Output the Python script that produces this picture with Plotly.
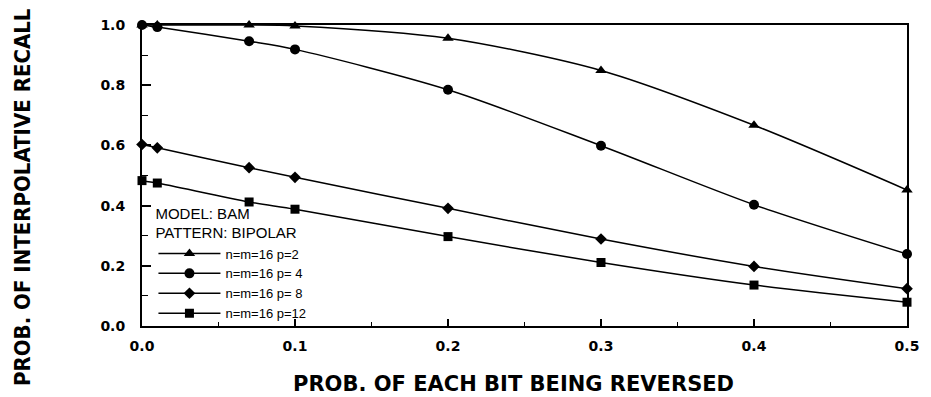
import plotly.graph_objects as go

# Data
x_vals = [0.0, 0.01, 0.07, 0.1, 0.2, 0.3, 0.4, 0.5]
p2 = [1.0, 1.0, 1.0, 0.997, 0.956, 0.849, 0.667, 0.452]
p4 = [1.0, 0.993, 0.946, 0.919, 0.785, 0.599, 0.403, 0.239]
p8 = [0.603, 0.592, 0.526, 0.494, 0.391, 0.289, 0.198, 0.124]
p12 = [0.483, 0.475, 0.412, 0.388, 0.297, 0.211, 0.136, 0.079]

series_names = ["n=m=16 p=2", "n=m=16 p= 4", "n=m=16 p= 8", "n=m=16 p=12"]
series_vals = [p2, p4, p8, p12]
symbols = ["triangle-up", "circle", "diamond", "square"]
sizes = [10, 10, 9, 9]

x_ticks = [0.0, 0.1, 0.2, 0.3, 0.4, 0.5]
x_ticklabels = ["0.0", "0.1", "0.2", "0.3", "0.4", "0.5"]
y_ticks = [0.0, 0.2, 0.4, 0.6, 0.8, 1.0]
y_ticklabels = ["0.0", "0.2", "0.4", "0.6", "0.8", "1.0"]

fig = go.Figure()
for name, vals, sym, sz in zip(series_names, series_vals, symbols, sizes):
    fig.add_trace(go.Scatter(
        x=x_vals, y=vals, name=name, mode="lines+markers",
        line=dict(color="black", width=1.5, shape="spline", smoothing=0.8),
        marker=dict(symbol=sym, size=sz, color="black"),
        cliponaxis=False,
    ))

W, H = 931, 397
L, R, T, B = 141.5, 21, 24.5, 70.5
pw = W - L - R
ph = H - T - B

def px_x(px):
    return (px - L) / pw

def px_y(py):
    return (H - B - py) / ph

tick_font = dict(family="DejaVu Sans", size=14, color="black", weight="bold")

fig.update_layout(
    width=W, height=H,
    margin=dict(l=L, r=R, t=T, b=B, pad=0),
    paper_bgcolor="white", plot_bgcolor="white",
    showlegend=True,
    legend=dict(
        x=px_x(153), y=px_y(329), xanchor="left", yanchor="bottom",
        bgcolor="rgba(0,0,0,0)",
        font=dict(family="Liberation Sans", size=13, color="black"),
        title=dict(text="MODEL: BAM<br>PATTERN: BIPOLAR", side="top",
                   font=dict(family="Liberation Sans", size=15, color="black")),
        itemwidth=62, tracegroupgap=0,
    ),
    xaxis=dict(
        range=[0, 0.5], tickvals=x_ticks, ticktext=x_ticklabels,
        showgrid=False, zeroline=False,
        showline=True, linecolor="black", linewidth=2, mirror=True,
        ticks="inside", ticklen=7, tickwidth=1.5, tickcolor="black",
        minor=dict(dtick=0.05, ticks="inside", ticklen=4, tickwidth=1, tickcolor="black"),
        tickfont=tick_font, ticklabelstandoff=6,
    ),
    yaxis=dict(
        range=[0, 1.0], tickvals=y_ticks, ticktext=y_ticklabels,
        showgrid=False, zeroline=False,
        showline=True, linecolor="black", linewidth=2, mirror=True,
        ticks="inside", ticklen=9, tickwidth=1.5, tickcolor="black",
        minor=dict(dtick=0.1, ticks="inside", ticklen=6, tickwidth=1, tickcolor="black"),
        tickfont=tick_font, ticklabelstandoff=12,
    ),
    annotations=[
        dict(text="PROB. OF INTERPOLATIVE RECALL", xref="paper", yref="paper",
             x=px_x(22), y=px_y(197), xanchor="center", yanchor="middle",
             textangle=-90, showarrow=False,
             font=dict(family="DejaVu Sans Condensed", size=22, color="black", weight="bold")),
        dict(text="PROB. OF EACH BIT BEING REVERSED", xref="paper", yref="paper",
             x=px_x(515), y=px_y(385), xanchor="center", yanchor="middle",
             showarrow=False,
             font=dict(family="DejaVu Sans", size=21, color="black", weight="bold")),
    ],
)

fig.write_html("out.html", config={"displayModeBar": False},
               post_script="document.body.style.margin='0px';")
